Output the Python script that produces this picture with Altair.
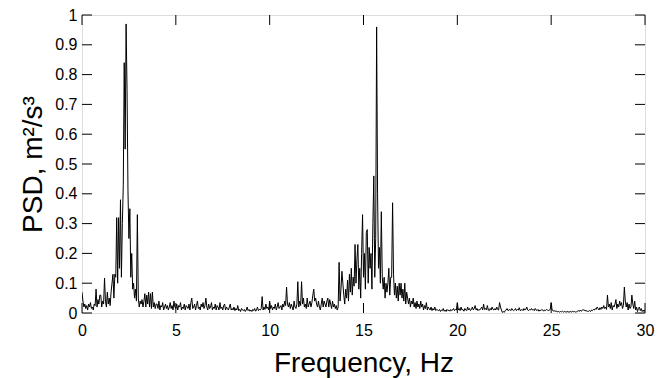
import altair as alt
import numpy as np
import pandas as pd

# PSD values, 0.05 Hz step, one row per Hz (0 .. 30 Hz)
psd_rows = [
    [0.07,0.04,0.02,0.03,0.015,0.025,0.01,0.03,0.02,0.035,0.015,0.02,0.01,0.03,0.025,0.08,0.02,0.045,0.03,0.06],
    [0.06,0.02,0.04,0.03,0.117,0.04,0.02,0.07,0.03,0.05,0.025,0.07,0.10,0.13,0.05,0.13,0.12,0.32,0.10,0.32],
    [0.15,0.38,0.12,0.30,0.43,0.84,0.55,0.97,0.75,0.41,0.25,0.35,0.12,0.20,0.08,0.10,0.05,0.08,0.04,0.33],
    [0.05,0.02,0.04,0.03,0.045,0.02,0.04,0.065,0.02,0.06,0.03,0.07,0.02,0.065,0.015,0.07,0.02,0.035,0.015,0.03],
    [0.03,0.015,0.04,0.01,0.025,0.02,0.035,0.01,0.02,0.03,0.015,0.025,0.01,0.02,0.035,0.015,0.025,0.01,0.04,0.02],
    [0.015,0.03,0.01,0.025,0.02,0.035,0.01,0.02,0.015,0.03,0.01,0.025,0.02,0.015,0.03,0.01,0.035,0.05,0.015,0.02],
    [0.03,0.01,0.025,0.04,0.015,0.02,0.01,0.03,0.02,0.035,0.015,0.025,0.05,0.02,0.01,0.03,0.015,0.02,0.035,0.01],
    [0.02,0.015,0.03,0.01,0.025,0.02,0.01,0.035,0.015,0.02,0.01,0.025,0.03,0.01,0.02,0.015,0.01,0.02,0.03,0.01],
    [0.015,0.01,0.02,0.008,0.015,0.01,0.025,0.008,0.012,0.005,0.015,0.01,0.008,0.012,0.005,0.01,0.02,0.008,0.012,0.006],
    [0.01,0.005,0.012,0.008,0.015,0.006,0.01,0.02,0.008,0.012,0.01,0.015,0.055,0.01,0.02,0.012,0.03,0.015,0.02,0.01],
    [0.04,0.015,0.025,0.01,0.02,0.015,0.03,0.01,0.02,0.035,0.015,0.02,0.025,0.01,0.03,0.02,0.04,0.025,0.087,0.03],
    [0.02,0.035,0.015,0.03,0.02,0.01,0.04,0.02,0.015,0.03,0.105,0.02,0.04,0.025,0.105,0.03,0.05,0.02,0.03,0.015],
    [0.05,0.02,0.03,0.04,0.02,0.035,0.06,0.08,0.04,0.05,0.03,0.02,0.04,0.02,0.01,0.03,0.05,0.02,0.04,0.03],
    [0.02,0.04,0.05,0.02,0.045,0.03,0.015,0.04,0.02,0.03,0.015,0.025,0.01,0.02,0.17,0.04,0.08,0.14,0.10,0.06],
    [0.03,0.08,0.05,0.11,0.04,0.13,0.07,0.15,0.06,0.12,0.09,0.23,0.10,0.18,0.23,0.08,0.15,0.05,0.20,0.33],
    [0.12,0.20,0.08,0.27,0.28,0.10,0.22,0.15,0.20,0.08,0.30,0.46,0.12,0.25,0.96,0.40,0.15,0.22,0.10,0.34],
    [0.12,0.08,0.12,0.05,0.10,0.07,0.10,0.15,0.06,0.12,0.12,0.37,0.13,0.06,0.10,0.05,0.09,0.04,0.10,0.06],
    [0.10,0.05,0.08,0.04,0.10,0.03,0.07,0.05,0.03,0.05,0.02,0.04,0.03,0.05,0.02,0.035,0.015,0.04,0.02,0.03],
    [0.015,0.04,0.02,0.03,0.01,0.025,0.015,0.035,0.01,0.02,0.015,0.01,0.02,0.008,0.015,0.01,0.02,0.008,0.012,0.01],
    [0.008,0.012,0.005,0.01,0.008,0.015,0.006,0.01,0.005,0.012,0.008,0.01,0.006,0.012,0.008,0.01,0.015,0.008,0.012,0.01],
    [0.035,0.01,0.015,0.008,0.02,0.01,0.012,0.006,0.015,0.01,0.008,0.02,0.01,0.015,0.008,0.012,0.02,0.01,0.015,0.025],
    [0.01,0.015,0.008,0.012,0.01,0.015,0.02,0.01,0.03,0.012,0.015,0.01,0.025,0.01,0.008,0.015,0.01,0.02,0.012,0.01],
    [0.015,0.01,0.02,0.012,0.01,0.035,0.02,0.01,0.002,0.005,0.002,0.008,0.01,0.015,0.008,0.01,0.012,0.008,0.015,0.01],
    [0.008,0.01,0.015,0.008,0.012,0.01,0.018,0.008,0.01,0.012,0.008,0.015,0.01,0.012,0.02,0.01,0.008,0.012,0.01,0.015],
    [0.01,0.012,0.008,0.015,0.01,0.008,0.012,0.006,0.01,0.008,0.012,0.01,0.006,0.01,0.008,0.012,0.01,0.008,0.01,0.012],
    [0.035,0.01,0.008,0.006,0.008,0.005,0.006,0.004,0.005,0.003,0.005,0.004,0.006,0.003,0.005,0.004,0.003,0.005,0.004,0.003],
    [0.004,0.005,0.003,0.006,0.004,0.005,0.003,0.004,0.006,0.008,0.005,0.01,0.006,0.008,0.012,0.008,0.01,0.006,0.008,0.005],
    [0.006,0.008,0.005,0.01,0.008,0.012,0.01,0.015,0.012,0.02,0.015,0.01,0.018,0.012,0.02,0.015,0.025,0.015,0.02,0.012],
    [0.06,0.02,0.03,0.015,0.035,0.01,0.025,0.02,0.03,0.045,0.015,0.03,0.02,0.04,0.025,0.035,0.015,0.025,0.087,0.04],
    [0.02,0.035,0.01,0.03,0.015,0.02,0.06,0.03,0.015,0.04,0.01,0.02,0.005,0.015,0.02,0.008,0.015,0.005,0.01,0.005],
]
psd_last = [0.01]

x_ticks = [0, 5, 10, 15, 20, 25, 30]
y_ticks = [0, 0.1, 0.2, 0.3, 0.4, 0.5, 0.6, 0.7, 0.8, 0.9, 1]

psd = [v for row in psd_rows for v in row] + psd_last
freq = [round(i * 0.05, 2) for i in range(len(psd))]
df = pd.DataFrame({"f": freq, "psd": psd})

FONT = "Liberation Sans"
W, H = 563, 298
TL = 10

xs = alt.Scale(domain=[0, 30], nice=False, zero=False)
ys = alt.Scale(domain=[0, 1], nice=False)

x_axis = alt.Axis(
    values=x_ticks, format="d", ticks=False, domain=False, grid=False,
    labelFlush=False, labelOverlap=False,
    labelFontSize=16, labelFont=FONT, labelColor="black", labelPadding=9,
    title="Frequency, Hz", titleFont=FONT, titleFontSize=28,
    titleFontWeight="normal", titleColor="black", titlePadding=11)
y_axis = alt.Axis(
    values=y_ticks, format="~g", ticks=False, domain=False, grid=False,
    labelFlush=False, labelOverlap=False,
    labelFontSize=16, labelFont=FONT, labelColor="black", labelPadding=5,
    title="PSD, m²/s³", titleFont=FONT, titleFontSize=28,
    titleFontWeight="normal", titleColor="black", titlePadding=7)

line = alt.Chart(df).mark_line(color="black", strokeWidth=1, clip=True).encode(
    x=alt.X("f:Q", scale=xs, axis=x_axis),
    y=alt.Y("psd:Q", scale=ys, axis=y_axis),
)

ydf = pd.DataFrame({"yt": y_ticks})
xdf = pd.DataFrame({"xt": x_ticks})

yl = alt.Chart(ydf).mark_rule(color="black", strokeWidth=1).encode(
    y=alt.Y("yt:Q", scale=ys, axis=y_axis), x=alt.value(0), x2=alt.value(TL))
yr = alt.Chart(ydf).mark_rule(color="black", strokeWidth=1).encode(
    y=alt.Y("yt:Q", scale=ys, axis=y_axis), x=alt.value(W - TL), x2=alt.value(W))
xt = alt.Chart(xdf).mark_rule(color="black", strokeWidth=1).encode(
    x=alt.X("xt:Q", scale=xs, axis=x_axis), y=alt.value(0), y2=alt.value(TL))
xb = alt.Chart(xdf).mark_rule(color="black", strokeWidth=1).encode(
    x=alt.X("xt:Q", scale=xs, axis=x_axis), y=alt.value(H - TL), y2=alt.value(H))

chart = alt.layer(line, yl, yr, xt, xb).properties(
    width=W, height=H,
    autosize=alt.AutoSizeParams(type="none"),
    padding={"left": 74, "top": 7, "right": 14, "bottom": 65},
).configure_view(stroke="black", strokeWidth=1.2).configure(background="white")

chart.save("out.html", embed_options={"renderer": "svg", "actions": False})
